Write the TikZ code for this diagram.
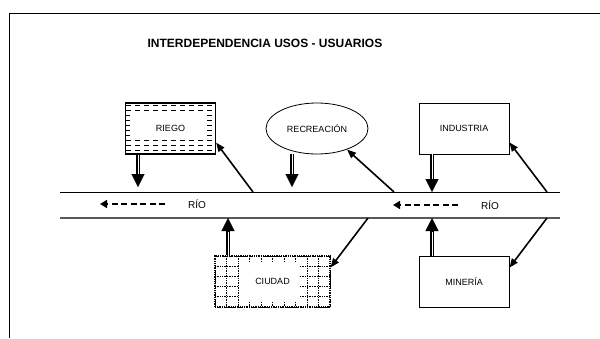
\documentclass[tikz,border=0pt]{standalone}
\usepackage{fontspec}
\setmainfont{Liberation Sans}
\usetikzlibrary{arrows.meta,shapes.geometric,backgrounds,calc}

\begin{document}
\begin{tikzpicture}[x=1pt, y=-1pt,
  usebox/.style={draw, line width=0.8pt, minimum width=90pt, minimum height=51pt, inner sep=0pt, font=\fontsize{9}{10}\selectfont},
  riolabel/.style={font=\fontsize{10}{12}\selectfont},
  shaftline/.style={double, double distance=1pt, line width=1.9pt},
  tipline/.style={-{Triangle[width=13pt,length=13pt]}, line width=0.1pt},
  backline/.style={-{Triangle[width=7pt,length=9pt]}, line width=1.6pt},
  flowline/.style={-{Triangle[width=8pt,length=7pt]}, dash pattern=on 6pt off 3.5pt, line width=1.6pt},
  ]
  \useasboundingbox (0,0) rectangle (600,338);
  \draw[line width=0.9pt] (9,338) -- (9,13) -- (600,13);
  \node[font=\bfseries\fontsize{12}{14}\selectfont] (title) at (265,43) {INTERDEPENDENCIA USOS - USUARIOS};

  % usos y usuarios
  \node[usebox, line width=1.2pt] (riego) at (170.5,128.5) {RIEGO};
  \node[usebox, ellipse, minimum width=102pt] (recreacion) at (317,128.5) {RECREACIÓN};
  \node[usebox] (industria) at (464,128.5) {INDUSTRIA};
  \node[usebox, minimum width=115pt, densely dotted, line width=1.2pt] (ciudad) at (272.5,281.5) {CIUDAD};
  \node[usebox] (mineria) at (464,281.5) {MINERÍA};

  \begin{scope}[on background layer]
    \foreach \y in {105,110,...,150}
      \draw[dash pattern=on 5pt off 4pt, line width=0.7pt] (126,\y) -- (215,\y);
    \fill[white] (130,112.5) rectangle (205,137.5);
    \foreach \i in {0,...,10}
      \draw[densely dotted, line width=0.7pt] (215+11.5*\i,256) -- (215+11.5*\i,307);
    \foreach \i in {0,...,5}
      \draw[densely dotted, line width=0.7pt] (215,256+10.2*\i) -- (330,256+10.2*\i);
    \fill[white] (239,262) rectangle (300,301);
  \end{scope}

  % rio
  \coordinate (riotl) at (60,192);
  \coordinate (riotr) at (560,192);
  \coordinate (riobl) at (60,218);
  \coordinate (riobr) at (560,218);
  \draw[line width=0.9pt] (riotl) -- (riotr);
  \draw[line width=1.4pt, black!65] (riobl) -- (riobr);
  \node[riolabel] (rio1) at (197,204) {RÍO};
  \node[riolabel] (rio2) at (490,205) {RÍO};
  \coordinate (fa) at (165,204);
  \coordinate (fb) at (100,204);
  \coordinate (fc) at (458,205);
  \coordinate (fd) at (393,205);
  \draw[flowline] (fa) -- (fb);
  \draw[flowline] (fc) -- (fd);

  % descargas
  \coordinate (dr) at (138,187);
  \coordinate (dc) at (292,187);
  \coordinate (di) at (432,192);
  \coordinate (uc) at (228,218);
  \coordinate (um) at (432,218);
  \foreach \src/\tip in {riego.south/dr, recreacion.south/dc, industria.south/di, ciudad.north/uc, mineria.north/um} {
    \draw[shaftline] (\tip |- \src) -- ($(\tip)!12pt!(\tip |- \src)$);
    \draw[tipline] ($(\tip)!13pt!(\tip |- \src)$) -- (\tip);
  }

  % captaciones
  \coordinate (br) at (253,192);
  \coordinate (bc) at (394,192);
  \coordinate (bi) at (547,192);
  \coordinate (bu) at (368,218);
  \coordinate (bm) at (547,218);
  \draw[backline] (br) -- ([yshift=12pt]riego.south east);
  \draw[backline] (bc) -- (recreacion.-35);
  \draw[backline] (bi) -- ([yshift=12pt]industria.south east);
  \draw[backline] (bu) -- ([yshift=-12pt]ciudad.north east);
  \draw[backline] (bm) -- ([yshift=-12pt]mineria.north east);
\end{tikzpicture}
\end{document}
